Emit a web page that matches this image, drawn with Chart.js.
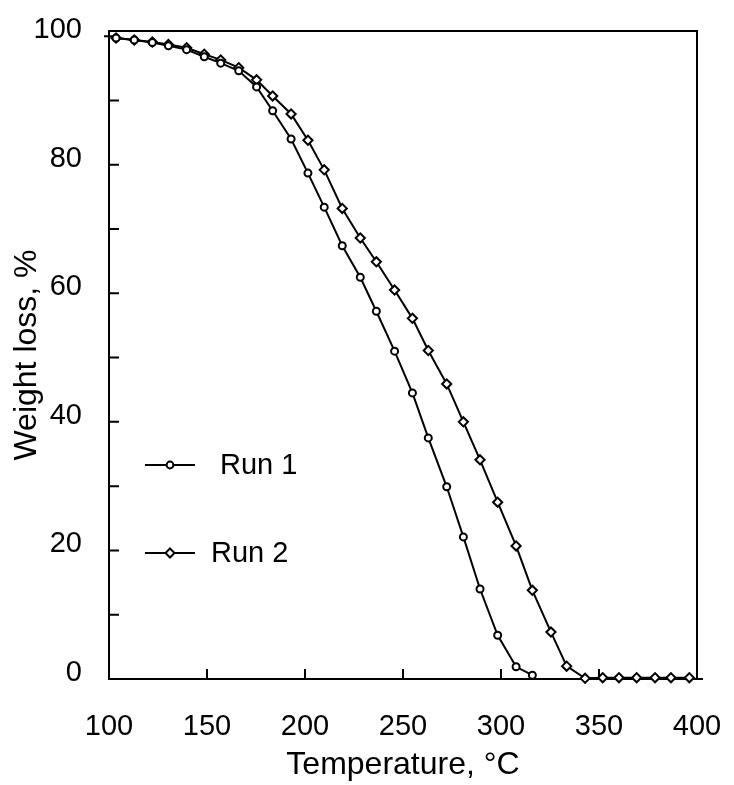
<!DOCTYPE html>
<html>
<head>
<meta charset="utf-8">
<script src="https://cdn.jsdelivr.net/npm/chart.js@4"></script>
<style>
html,body{margin:0;padding:0;background:#fff;}
</style>
</head>
<body>
<canvas id="tgaChart" width="734" height="785"></canvas>
<script>
// temperature of each reading, shared by both runs (deg C)
const temps = [103.6,112.9,122.1,130.3,139.6,148.6,157.0,166.2,175.3,183.5,192.9,201.5,209.8,219.0,228.2,236.4,245.7,254.8,262.9,272.3,280.8,289.3,298.3,307.7,316.0,325.5,333.5,342.9,351.9,360.2,369.2,378.6,386.7,396.1];
const run1 = [99.7,99.4,99.0,98.5,97.9,96.8,95.8,94.6,92.1,88.4,84.0,78.7,73.4,67.4,62.5,57.2,51.0,44.5,37.5,29.9,22.1,14.0,6.8,1.9,0.6];
const run2 = [99.7,99.4,99.1,98.7,98.2,97.2,96.3,95.1,93.2,90.7,87.9,83.8,79.2,73.2,68.6,64.9,60.5,56.1,51.1,45.9,40.0,34.1,27.5,20.7,13.8,7.3,2.0,0.1,0.2,0.2,0.2,0.2,0.2,0.2];
const xTicks = [100,150,200,250,300,350,400];
const yTicks = [0,20,40,60,80,100];
const yMinor = [10,30,50,70,90];
const seriesNames = ['Run 1','Run 2'];

const FONT = "'Liberation Sans', Arial, sans-serif";

function pts(vals){
  return vals.map((v,i)=>({x:temps[i],y:v}));
}

//frame + inward ticks
const frame = {
  id:'frame',
  beforeDatasetsDraw(chart){
    const {ctx, chartArea:a, scales:{x,y}} = chart;
    ctx.save();
    ctx.strokeStyle='#000';
    ctx.lineWidth=2;
    ctx.strokeRect(a.left,a.top,a.right-a.left,a.bottom-a.top);
    ctx.beginPath();
    ctx.moveTo(a.right,a.bottom); ctx.lineTo(a.right+6,a.bottom);
    xTicks.forEach(v=>{
      if(v>x.min && v<x.max){
        const px=x.getPixelForValue(v);
        ctx.moveTo(px,a.bottom); ctx.lineTo(px,a.bottom-10);
      }
    });
    yTicks.concat(yMinor).forEach(v=>{
      if(v>0 && v<100){
        const py=y.getPixelForValue(v);
        ctx.moveTo(a.left,py); ctx.lineTo(a.left+10,py);
      }
    });
    const p100=y.getPixelForValue(100);
    ctx.moveTo(a.left-5,p100); ctx.lineTo(a.left+6,p100);
    ctx.stroke();
    ctx.restore();
  }
};

//legend drawn inside the plot
const insideLegend = {
  id:'insideLegend',
  afterDraw(chart){
    const ctx=chart.ctx;
    const rows=[
      {y:465,x0:145,x1:195,textX:220,style:'circle'},
      {y:553,x0:145,x1:195,textX:211,style:'diamond'}
    ];
    ctx.save();
    rows.forEach((r,i)=>{
      ctx.strokeStyle='#000';
      ctx.lineWidth=2;
      ctx.beginPath();
      ctx.moveTo(r.x0,r.y); ctx.lineTo(r.x1,r.y);
      ctx.stroke();
      const cx=(r.x0+r.x1)/2;
      ctx.fillStyle='#fff';
      ctx.beginPath();
      if(r.style==='circle'){
        ctx.arc(cx,r.y,3.4,0,Math.PI*2);
      }else{
        ctx.moveTo(cx,r.y-4.5); ctx.lineTo(cx+4.5,r.y); ctx.lineTo(cx,r.y+4.5); ctx.lineTo(cx-4.5,r.y); ctx.closePath();
      }
      ctx.fill(); ctx.stroke();
      ctx.fillStyle='#000';
      ctx.font='29px '+FONT;
      ctx.textAlign='left';
      ctx.textBaseline='middle';
      ctx.fillText(seriesNames[i],r.textX,r.y+1);
    });
    ctx.restore();
  }
};

new Chart(document.getElementById('tgaChart'),{
  type:'line',
  data:{
    datasets:[
      {label:seriesNames[0],data:pts(run1),borderColor:'#000',borderWidth:2,backgroundColor:'#fff',
       pointStyle:'circle',pointRadius:3.5,pointBorderWidth:2,pointBackgroundColor:'#fff',pointBorderColor:'#000',tension:0,clip:false},
      {label:seriesNames[1],data:pts(run2),borderColor:'#000',borderWidth:2,backgroundColor:'#fff',
       pointStyle:'rectRot',pointRadius:4.6,pointBorderWidth:2,pointBackgroundColor:'#fff',pointBorderColor:'#000',tension:0,clip:false}
    ]
  },
  options:{
    responsive:false,
    animation:false,
    devicePixelRatio:1,
    layout:{padding:{top:31,right:37,left:0,bottom:0}},
    plugins:{legend:{display:false},tooltip:{enabled:false}},
    scales:{
      x:{
        type:'linear',min:100,max:400,
        afterFit(s){s.height=106;s.paddingLeft=0;s.paddingRight=0;},
        afterBuildTicks(s){s.ticks=xTicks.map(v=>({value:v}));},
        grid:{display:false,drawTicks:false},
        border:{display:false},
        ticks:{color:'#000',font:{family:FONT,size:29},padding:31,maxRotation:0},
        title:{display:true,text:'Temperature, °C',color:'#000',font:{family:FONT,size:32},padding:{top:0,bottom:1}}
      },
      y:{
        type:'linear',min:0,max:100.8,
        afterFit(s){s.width=109;s.paddingTop=0;s.paddingBottom=0;},
        afterBuildTicks(s){s.ticks=yTicks.map(v=>({value:v}));},
        grid:{display:false,drawTicks:false},
        border:{display:false},
        ticks:{color:'#000',font:{family:FONT,size:29},padding:27,labelOffset:-6},
        title:{display:true,text:'Weight loss, %',color:'#000',font:{family:FONT,size:32},padding:{top:8,bottom:0}}
      }
    }
  },
  plugins:[frame,insideLegend]
});
</script>
</body>
</html>
